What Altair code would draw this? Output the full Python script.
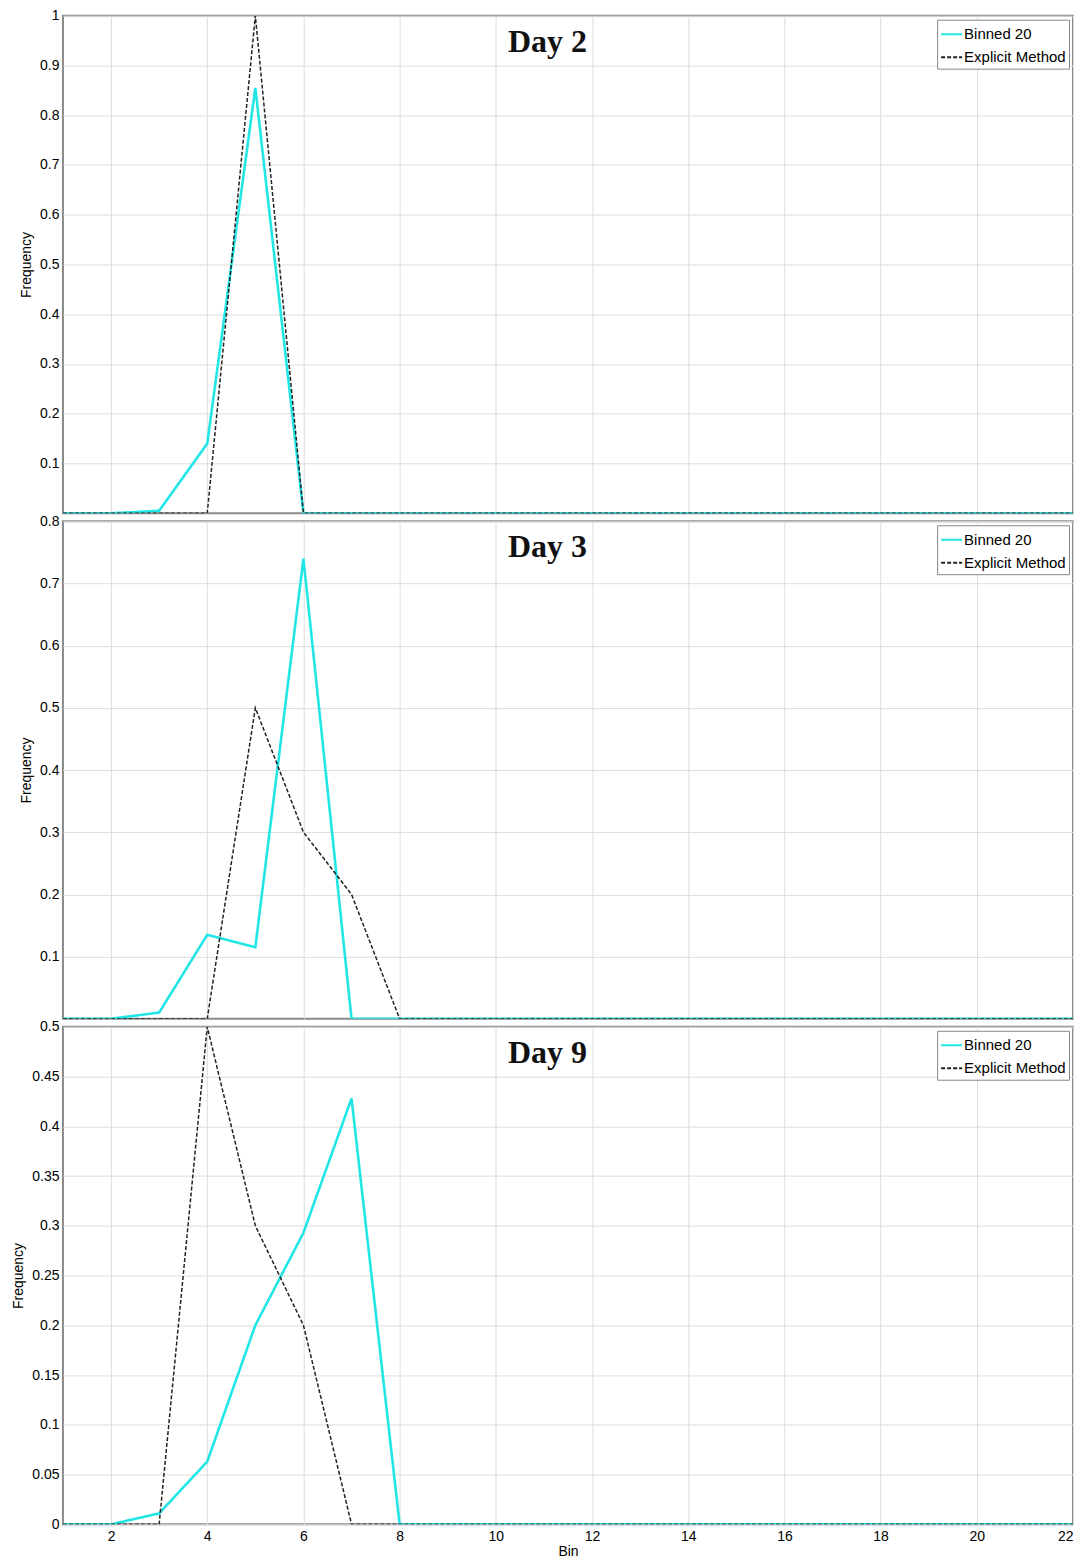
import altair as alt
import pandas as pd

bins = list(range(1, 23))
series_names = ["Binned 20", "Explicit Method"]

day2_binned = [0, 0, 0.005, 0.14, 0.855] + [0] * 17
day2_explicit = [0, 0, 0, 0, 1.0] + [0] * 17
day3_binned = [0, 0, 0.01, 0.135, 0.115, 0.74] + [0] * 16
day3_explicit = [0, 0, 0, 0, 0.5, 0.3, 0.2] + [0] * 15
day9_binned = [0, 0, 0.011, 0.063, 0.2, 0.293, 0.428] + [0] * 15
day9_explicit = [0, 0, 0, 0.5, 0.3, 0.2, 0] + [0] * 15

day2_yticks = [0.1, 0.2, 0.3, 0.4, 0.5, 0.6, 0.7, 0.8, 0.9, 1.0]
day3_yticks = [0.1, 0.2, 0.3, 0.4, 0.5, 0.6, 0.7, 0.8]
day9_yticks = [0, 0.05, 0.1, 0.15, 0.2, 0.25, 0.3, 0.35, 0.4, 0.45, 0.5]
x_ticks = [2, 4, 6, 8, 10, 12, 14, 16, 18, 20, 22]

W, H = 1011, 498


def legend():
    return alt.Legend(title=None, orient="top-right", offset=4,
                      symbolType="stroke", symbolSize=441, symbolStrokeWidth=2,
                      labelFontSize=15, labelOffset=1, padding=3, rowPadding=3,
                      strokeColor="#888888", fillColor="white", labelLimit=300)


def panel(day, binned, explicit, ymax, yticks, show_x):
    df = pd.DataFrame({
        "Bin": bins * 2,
        "Frequency": binned + explicit,
        "series": [series_names[0]] * len(bins) + [series_names[1]] * len(bins),
    })
    x_axis = alt.Axis(values=x_ticks, grid=True, labels=show_x, ticks=False,
                      domain=False, title="Bin" if show_x else None,
                      labelFontSize=14, labelPadding=5, titleFontSize=14,
                      titlePadding=1, titleFontWeight="normal")
    lines = alt.Chart(df).mark_line(clip=True).encode(
        x=alt.X("Bin:Q", scale=alt.Scale(domain=[1, 22], nice=False), axis=x_axis),
        y=alt.Y("Frequency:Q", scale=alt.Scale(domain=[0, ymax], nice=False, zero=True),
                axis=alt.Axis(values=yticks, format=".2~f", grid=True, ticks=False,
                              domain=False, title="Frequency", labelFontSize=14,
                              labelPadding=4, titleFontSize=14, titlePadding=6,
                              titleFontWeight="normal")),
        color=alt.Color("series:N",
                        scale=alt.Scale(domain=series_names, range=["#22e6e6", "#222222"]),
                        legend=legend()),
        strokeDash=alt.StrokeDash("series:N",
                                  scale=alt.Scale(domain=series_names, range=[[1, 0], [4, 2]]),
                                  legend=legend()),
        strokeWidth=alt.StrokeWidth("series:N",
                                    scale=alt.Scale(domain=series_names, range=[2.6, 1.5]),
                                    legend=None),
    )
    title = alt.Chart(pd.DataFrame({"label": [day]})).mark_text(
        font="Liberation Serif", fontWeight="bold", fontSize=32,
        align="center", baseline="alphabetic", color="#111111"
    ).encode(x=alt.value(485), y=alt.value(36), text="label:N")
    return alt.layer(lines, title).properties(
        width=W, height=H,
        view=alt.ViewBackground(stroke="#8a8a8a", strokeWidth=2, fill="white"),
    )


p1 = panel("Day 2", day2_binned, day2_explicit, 1.0, day2_yticks, False)
p2 = panel("Day 3", day3_binned, day3_explicit, 0.8, day3_yticks, False)
p3 = panel("Day 9", day9_binned, day9_explicit, 0.5, day9_yticks, True)

chart = alt.vconcat(p1, p2, p3, spacing=8, bounds="flush").resolve_legend(
    color="independent", strokeDash="independent"
).resolve_scale(y="independent").configure_view(
    stroke="#8a8a8a", strokeWidth=2
).configure_axis(
    gridColor="#b8b8b8", gridDash=[2, 2], gridWidth=1,
    labelFont="Liberation Sans", titleFont="Liberation Sans",
    labelColor="#222222", titleColor="#222222"
).configure_legend(
    labelFont="Liberation Sans", labelColor="#222222"
).configure(padding={"left": 2, "top": -1, "right": 1, "bottom": -2})

chart.save("out.html", embed_options={"renderer": "svg", "actions": False})
